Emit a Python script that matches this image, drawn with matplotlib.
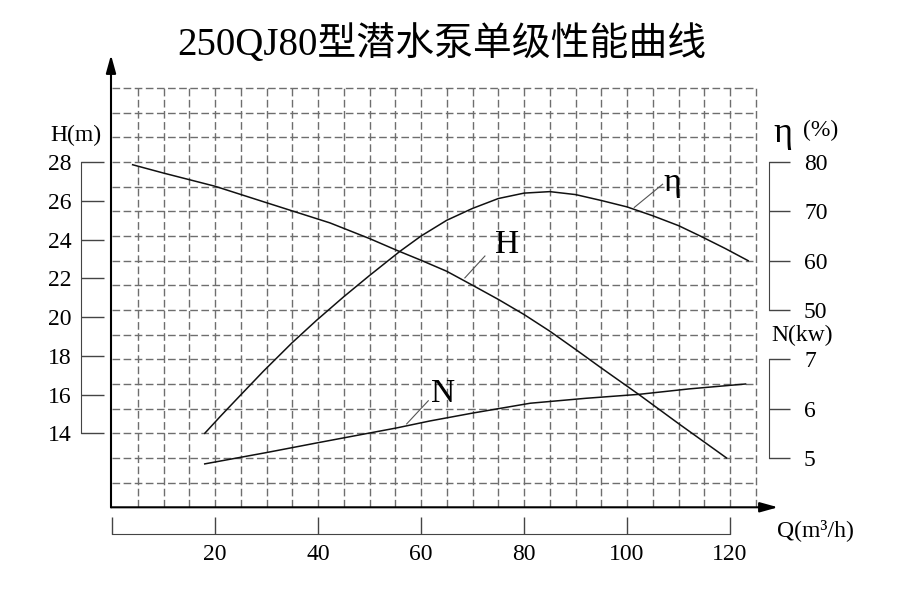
import numpy as np
import matplotlib.pyplot as plt

plt.rcParams['font.family'] = ['Liberation Serif', 'Noto Sans CJK SC']

# 读图得到的数据 (Q: m3/h)
q_h = [4, 10, 20, 30, 42.3, 50, 55.5, 60, 65, 70, 75, 80, 85, 90, 95, 102.3, 110, 119.3]
h = [27.86, 27.43, 26.75, 25.9, 24.86, 24.05, 23.42, 22.93, 22.36, 21.64, 20.91, 20.13, 19.27, 18.33, 17.37, 16.0, 14.5, 12.73]

q_eta = [18, 21, 25, 29.4, 35, 39.7, 45, 50, 55.9, 60, 65, 70, 75, 80, 85, 90, 95, 100, 105, 110, 114.2, 119, 123.5]
eta = [25.0, 28.4, 32.8, 37.6, 43.4, 47.9, 52.7, 57.0, 61.9, 65.0, 68.2, 70.6, 72.6, 73.7, 74.0, 73.4, 72.2, 70.9, 69.1, 67.1, 65.0, 62.5, 60.0]

q_n = [18, 30, 40, 55.3, 61.7, 70, 81.2, 92, 102.3, 112, 123]
n = [4.88, 5.11, 5.31, 5.61, 5.75, 5.91, 6.11, 6.21, 6.29, 6.4, 6.5]

h_ticks = [14, 16, 18, 20, 22, 24, 26, 28]
eta_ticks = [50, 60, 70, 80]
n_ticks = [5, 6, 7]
q_ticks = [0, 20, 40, 60, 80, 100, 120]
q_labels = ['', '20', '40', '60', '80', '100', '120']

title = '250QJ80型潜水泵单级性能曲线'

fig = plt.figure(figsize=(9, 6.07), dpi=100)
rect = [111 / 900, (607 - 507.3) / 607, 667 / 900, 452.3 / 607]
xlim = (-0.2, 129.3)

# 网格层 (单位: 格)
ax = fig.add_axes(rect)
ax.set_xlim(xlim)
ax.set_ylim(0, 18.34)
ax.axis('off')
grid_kw = dict(colors='#6e6e6e', linestyles=(0, (5.5, 2.5)), linewidth=1)
ax.vlines(np.arange(5, 126, 5), 0, 17, **grid_kw)
ax.hlines(np.arange(1, 18), 0, 125, **grid_kw)
arrow = dict(arrowstyle='-|>,head_length=0.9,head_width=0.25', mutation_scale=12,
             lw=1.5, color='black', shrinkA=0, shrinkB=0)
ax.annotate('', xy=(0, 1), xytext=(0, 0), xycoords='axes fraction', arrowprops=arrow)
ax.annotate('', xy=(1, 0), xytext=(0, 0), xycoords='axes fraction', arrowprops=arrow)


def layer(ylim):
    a = fig.add_axes(rect)
    a.set_xlim(xlim)
    a.set_ylim(ylim)
    a.patch.set_visible(False)
    for s in a.spines.values():
        s.set_visible(False)
    a.set_xticks([])
    a.set_yticks([])
    return a


g_top = 18.34
ax_h = layer((14 - 3 * 14 / 11, 14 + (g_top - 3) * 14 / 11))
ax_eta = layer((50 - 8 * 5, 50 + (g_top - 8) * 5))
ax_n = layer((5 - 2 * 0.5, 5 + (g_top - 2) * 0.5))
ax_q = layer((0, 1))

# H 刻度
sp = ax_h.spines['left']
sp.set_visible(True)
sp.set_position(('outward', 21.6))
sp.set_bounds(14, 28)
sp.set_color('#444444')
ax_h.set_yticks(h_ticks)
ax_h.tick_params(axis='y', direction='in', length=16.5, width=1, color='#444444',
                 pad=6.5, labelsize=17)

# η 和 N 刻度
for a, lo, hi, tks in [(ax_eta, 50, 80, eta_ticks), (ax_n, 5, 7, n_ticks)]:
    sp = a.spines['right']
    sp.set_visible(True)
    sp.set_position(('axes', (769.3 - 111) / 667))
    sp.set_bounds(lo, hi)
    sp.set_color('#444444')
    a.yaxis.tick_right()
    a.set_yticks(tks)
    a.tick_params(axis='y', direction='out', length=15, width=1, color='#444444',
                  pad=10, labelsize=17)

# Q 刻度
sp = ax_q.spines['bottom']
sp.set_visible(True)
sp.set_position(('outward', 19.4))
sp.set_bounds(0, 120)
sp.set_color('#444444')
ax_q.set_xticks(q_ticks)
ax_q.set_xticklabels(q_labels)
ax_q.tick_params(axis='x', direction='in', length=12, width=1, color='#444444',
                 pad=7, labelsize=17)

# 曲线
ax_h.plot(q_h, h, color='#111111', lw=1.1)
ax_eta.plot(q_eta, eta, color='#111111', lw=1.1)
ax_n.plot(q_n, n, color='#111111', lw=1.1)

# 曲线标注
ax_h.plot([68.5, 72.4], [22.02, 23.15], color='#555555', lw=0.8)
ax_h.text(76.6, 23.72, 'H', fontsize=24, ha='center', va='center')
ax_eta.plot([101.4, 106.9], [70.8, 75.5], color='#555555', lw=0.8)
ax_eta.text(108.7, 75.7, 'η', fontsize=24, ha='center', va='center')
ax_n.plot([57.2, 61.4], [5.69, 6.16], color='#555555', lw=0.8)
ax_n.text(64.3, 6.30, 'N', fontsize=24, ha='center', va='center')

# 轴名
fig.text(76 / 900, 1 - 135 / 607, 'H(m)', fontsize=17, ha='center', va='center')
fig.text(783 / 900, 1 - 133 / 607, 'η', fontsize=26, ha='center', va='center')
fig.text(821 / 900, 1 - 130 / 607, '(%)', fontsize=17, ha='center', va='center')
fig.text(802 / 900, 1 - 335 / 607, 'N(kw)', fontsize=17, ha='center', va='center')
fig.text(815 / 900, 1 - 530 / 607, 'Q(m³/h)', fontsize=17, ha='center', va='center')

fig.text(442 / 900, 1 - 45 / 607, title, fontsize=28, ha='center', va='center')

fig.savefig('out.png', dpi=100)
